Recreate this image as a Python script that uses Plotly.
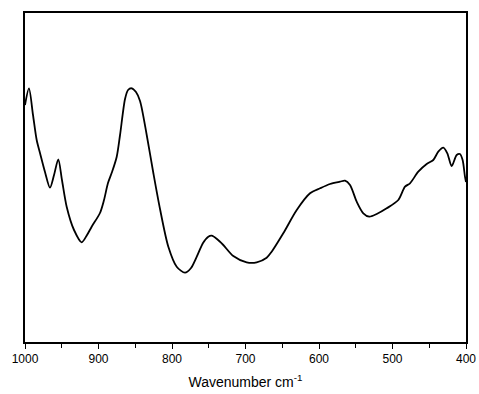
import plotly.graph_objects as go

wavenumber = [1000.0, 994.6, 989.1, 984.1, 979.6, 972.8, 966.0, 960.5, 954.7, 949.7,
              943.3, 933.3, 922.9, 915.6, 909.3, 898.0, 892.5, 887.1, 881.6, 875.2,
              870.7, 863.9, 859.8, 854.8, 849.0, 843.5, 834.4, 825.4, 816.3, 805.0,
              793.6, 782.3, 774.1, 766.3, 757.8, 750.6, 746.0, 738.8, 730.2, 716.6,
              698.4, 684.8, 671.2, 664.4, 648.6, 630.3, 612.2, 598.6, 585.0, 571.4,
              564.6, 557.8, 548.7, 539.7, 531.6, 521.5, 507.9, 492.1, 483.0, 476.2,
              464.9, 453.5, 444.5, 437.7, 430.9, 425.4, 419.5, 412.7, 408.2, 404.6,
              401.4, 400.0]
intensity = [237, 253.7, 227, 202, 189, 170, 154.3, 167, 182.7, 162,
             135.3, 112, 99.7, 107, 115.3, 129, 142, 159, 170, 185.3,
             207, 243, 252, 253.7, 250, 241, 207, 169, 133, 95.3,
             75.3, 69.3, 74, 85.3, 99, 105.3, 106.3, 103, 97, 86,
             79.7, 79.7, 84.3, 90.3, 108.7, 132, 148.7, 153.7, 158, 160.3,
             161.3, 157, 140.3, 128.7, 125.3, 128, 133.7, 142, 155.3, 158.7,
             170.3, 178, 182, 190.3, 194.3, 188.7, 176, 187, 188, 182,
             165.3, 160]

x_ticks = [1000, 900, 800, 700, 600, 500, 400]

fig = go.Figure()
fig.add_trace(go.Scatter(
    x=wavenumber, y=intensity, mode="lines",
    line=dict(color="black", width=1.8, shape="spline", smoothing=0.8),
    showlegend=False, hoverinfo="skip"))

fig.update_layout(
    width=479, height=394,
    margin=dict(l=25, r=13, t=13, b=52),
    paper_bgcolor="white", plot_bgcolor="white",
    font=dict(family="Liberation Sans, Arial, sans-serif", color="black"),
)
fig.update_xaxes(
    range=[1000, 400], tickvals=x_ticks, ticktext=[str(v) for v in x_ticks],
    automargin=False,
    showline=True, linecolor="black", linewidth=1.5, mirror=True,
    ticks="outside", ticklen=5, tickwidth=1.2, tickcolor="black",
    minor=dict(dtick=50, ticks="outside", ticklen=4, tickwidth=1.2, tickcolor="black", showgrid=False),
    showgrid=False, zeroline=False,
    tickfont=dict(size=12),
    title=dict(text="Wavenumber cm<sup>-1</sup>", font=dict(size=14), standoff=12),
)
fig.update_yaxes(
    range=[0, 329], showticklabels=False, ticks="", automargin=False,
    showline=True, linecolor="black", linewidth=1.5, mirror=True,
    showgrid=False, zeroline=False,
)

fig.write_html("out.html")
